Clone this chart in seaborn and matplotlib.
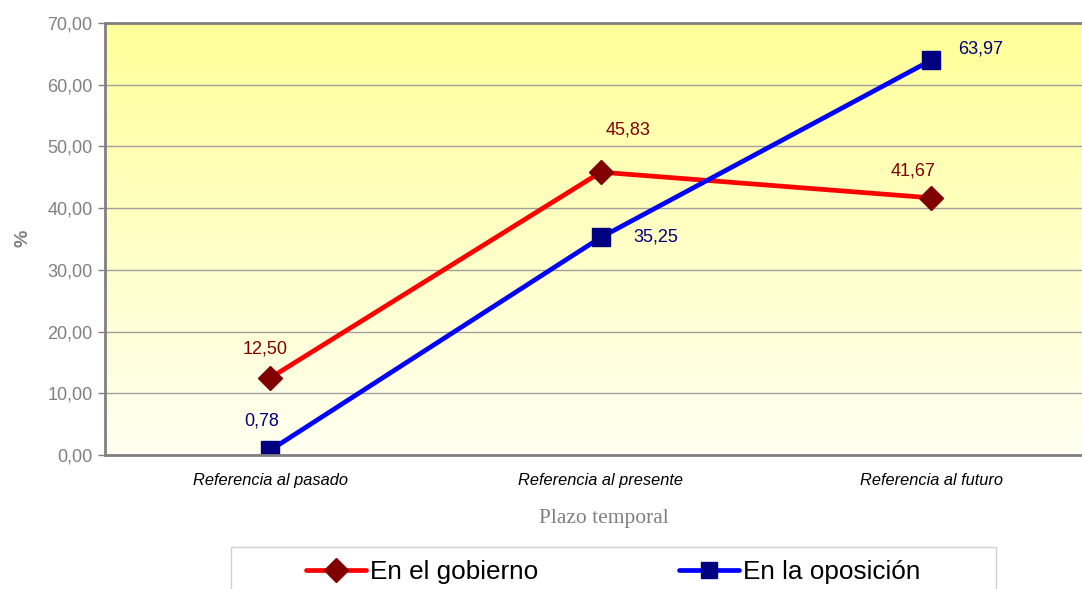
import numpy as np
import pandas as pd
import matplotlib
matplotlib.use("Agg")
import matplotlib.pyplot as plt
from matplotlib.lines import Line2D
from matplotlib.patches import Rectangle
from matplotlib.colors import LinearSegmentedColormap
import seaborn as sns

# Data
categories = ["Referencia al pasado", "Referencia al presente", "Referencia al futuro"]
series_names = ["En el gobierno", "En la oposición"]
gobierno = [12.50, 45.83, 41.67]
oposicion = [0.78, 35.25, 63.97]
y_ticks = [0, 10, 20, 30, 40, 50, 60, 70]

sns.set_theme(style="white")
plt.rcParams["font.family"] = ["Liberation Sans", "DejaVu Sans"]

df = pd.DataFrame({
    "pos": list(range(len(categories))) * 2,
    "valor": gobierno + oposicion,
    "serie": [series_names[0]] * 3 + [series_names[1]] * 3,
})

line_colors = {series_names[0]: "#FF0000", series_names[1]: "#0000FF"}
marker_colors = {series_names[0]: "#800000", series_names[1]: "#000080"}
markers = {series_names[0]: "D", series_names[1]: "s"}
msizes = {series_names[0]: 12.5, series_names[1]: 12.5}

W, H = 1082, 589
fig = plt.figure(figsize=(W / 100, H / 100), dpi=100)
ax = fig.add_axes([105 / W, 1 - 455 / H, 991.5 / W, (455 - 23) / H])

# gradient background
grad = LinearSegmentedColormap.from_list("bg", ["#FFFFF2", "#FFFF99"])
ax.imshow(np.linspace(0, 1, 256).reshape(-1, 1), cmap=grad, origin="lower",
          extent=[-0.5, 2.5, 0, 70], aspect="auto", zorder=0)

sns.lineplot(data=df, x="pos", y="valor", hue="serie", palette=line_colors,
             linewidth=3.4, legend=False, ax=ax, zorder=3)

for name, vals in zip(series_names, [gobierno, oposicion]):
    ax.plot(range(len(vals)), vals, linestyle="none", marker=markers[name],
            markersize=msizes[name], markerfacecolor=marker_colors[name],
            markeredgecolor=marker_colors[name], zorder=4)

# value labels (offsets in pixels)
offsets_g = [(-5, 29), (27, 42), (-18, 27)]
offsets_o = [(-9, 29), (55, 0), (49, 11)]
for vals, offs, col in [(gobierno, offsets_g, "#800000"), (oposicion, offsets_o, "#000080")]:
    for i, (v, off) in enumerate(zip(vals, offs)):
        ax.annotate(f"{v:.2f}".replace(".", ","), (i, v), xytext=off,
                    textcoords="offset pixels", ha="center", va="center",
                    fontsize=13, color=col, zorder=5)

ax.set_xlim(-0.5, 2.5)
ax.set_ylim(0, 70)
ax.set_yticks(y_ticks)
ax.set_yticklabels([f"{t:.2f}".replace(".", ",") for t in y_ticks],
                   fontsize=13, color="#808080")
ax.set_xticks(range(len(categories)))
ax.set_xticklabels(categories, fontsize=11.8, style="italic", color="#000000")
ax.set_xticks([0.5, 1.5], minor=True)
ax.tick_params(axis="x", which="major", length=0, pad=13)
ax.tick_params(axis="x", which="minor", length=5, color="#808080", width=1, direction="out")
ax.tick_params(axis="y", length=5, color="#808080", width=1, direction="out", pad=4, left=True)

ax.grid(axis="y", color="#A0A0A0", linewidth=1, zorder=1)
for gl in ax.get_ygridlines():
    gl.set_zorder(1)

for side in ["left", "top", "bottom"]:
    ax.spines[side].set_visible(True)
    ax.spines[side].set_color("#808080")
    ax.spines[side].set_linewidth(2)
    ax.spines[side].set_zorder(6)
ax.spines["right"].set_visible(False)

ax.set_ylabel("%", fontsize=14, fontweight="bold", color="#808080")
ax.yaxis.set_label_coords(-(105 - 32) / 991.5, (455 - 238) / 432)
ax.set_xlabel("Plazo temporal", fontsize=15.5, color="#808080",
              family=["Liberation Serif", "DejaVu Serif"])
ax.xaxis.set_label_coords((604 - 105) / 991.5, -(518 - 455) / 432)
ax.xaxis.label.set_va("center")

# legend box, running past the bottom edge
fig.patches.append(Rectangle((231 / W, -0.05), (996 - 231) / W, 0.05 + (589 - 547) / H,
                             transform=fig.transFigure, facecolor="white",
                             edgecolor="#D0D0D0", linewidth=1, zorder=1))
handles = [Line2D([0], [0], color=line_colors[n], linewidth=3.4, marker=markers[n],
                  markersize=12, markerfacecolor=marker_colors[n],
                  markeredgecolor=marker_colors[n]) for n in series_names]
leg = fig.legend(handles, series_names, loc="center",
                 bbox_to_anchor=(613 / W, 1 - 572 / H),
                 ncol=2, fontsize=18.8, frameon=False,
                 handlelength=2.3, handletextpad=0.15, columnspacing=5.4,
                 borderpad=0, borderaxespad=0)
leg.set_zorder(2)
for t in leg.get_texts():
    t.set_color("#000000")

fig.savefig("out.png", dpi=100)
